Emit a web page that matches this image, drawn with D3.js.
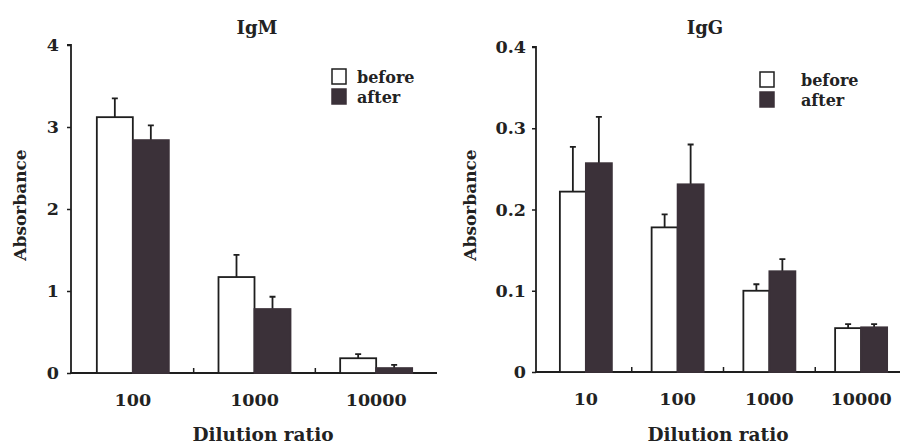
<!DOCTYPE html>
<html><head><meta charset="utf-8">
<script src="https://cdn.jsdelivr.net/npm/d3@7"></script>
<style>
body{margin:0;background:#fff;}
svg{display:block;}
text{font-family:"DejaVu Serif","Liberation Serif",serif;font-weight:bold;fill:#222;}
</style></head><body>
<svg id="chart" width="900" height="446"></svg>
<script>
const seriesNames = ["before", "after"];

const igmCategories = ["100", "1000", "10000"];
const igmBefore = [3.12, 1.17, 0.18];
const igmAfter = [2.84, 0.78, 0.06];
const igmBeforeErr = [0.23, 0.27, 0.05];
const igmAfterErr = [0.18, 0.15, 0.04];
const igmTicks = [0, 1, 2, 3, 4];

const iggCategories = ["10", "100", "1000", "10000"];
const iggBefore = [0.222, 0.178, 0.100, 0.054];
const iggAfter = [0.257, 0.231, 0.124, 0.055];
const iggBeforeErr = [0.055, 0.016, 0.008, 0.005];
const iggAfterErr = [0.057, 0.049, 0.015, 0.004];
const iggTicks = [0, 0.1, 0.2, 0.3, 0.4];

const svg = d3.select("#chart");
const dark = "#3b3139";
const ink = "#1e1e1e";

function panel(cfg) {
  const g = svg.append("g");
  const x = d3.scaleBand().domain(cfg.categories).range(cfg.xRange).paddingInner(0).paddingOuter(0);
  const y = d3.scaleLinear().domain([0, cfg.yMax]).range([cfg.y0, cfg.yTop]);
  const inner = d3.scaleBand().domain(seriesNames).range([0, cfg.barW * 2]);

  // y axis
  const yAxis = d3.axisLeft(y).tickValues(cfg.ticks).tickFormat(cfg.fmt).tickSize(4).tickPadding(cfg.tickPad);
  const ya = g.append("g").attr("transform", `translate(${cfg.axisX},0)`).call(yAxis);
  ya.select(".domain").attr("stroke", ink).attr("stroke-width", 1.8).attr("d", `M-4,${cfg.yTop}H0V${cfg.y0}`);
  ya.selectAll(".tick line").attr("stroke", ink).attr("stroke-width", 1.5);
  ya.selectAll(".tick text").style("font-size", "17.5px").style("font-family", "DejaVu Serif").style("font-weight", "bold").attr("fill", "#222");

  // x axis line with small upward ticks at band boundaries
  g.append("line").attr("x1", cfg.axisX - 1).attr("x2", cfg.xAxisEnd).attr("y1", cfg.y0).attr("y2", cfg.y0)
    .attr("stroke", ink).attr("stroke-width", 2);
  g.selectAll(".xt").data(cfg.categories.slice(1)).enter().append("line")
    .attr("x1", d => x(d)).attr("x2", d => x(d)).attr("y1", cfg.y0).attr("y2", cfg.y0 - 5)
    .attr("stroke", ink).attr("stroke-width", 1.5);
  g.selectAll(".xl").data(cfg.categories).enter().append("text")
    .attr("x", d => x(d) + x.bandwidth() / 2).attr("y", cfg.y0 + 33)
    .attr("text-anchor", "middle").style("font-size", "17.5px").text(d => d);

  const rows = cfg.categories.map((c, i) => ({c, vals: [
    {s: "before", v: cfg.before[i], e: cfg.beforeErr[i]},
    {s: "after", v: cfg.after[i], e: cfg.afterErr[i]}]}));

  const grp = g.selectAll(".grp").data(rows).enter().append("g")
    .attr("transform", d => `translate(${x(d.c) + x.bandwidth() / 2 - cfg.barW},0)`);
  // error bars
  grp.selectAll(".err").data(d => d.vals).enter().append("path")
    .attr("d", d => { const cx = inner(d.s) + cfg.barW / 2; const t = y(d.v + d.e);
      return `M${cx},${y(d.v)}V${t}M${cx - 3},${t}H${cx + 3}`; })
    .attr("stroke", ink).attr("stroke-width", 1.8).attr("fill", "none");
  grp.selectAll(".bar").data(d => d.vals).enter().append("rect")
    .attr("x", d => inner(d.s)).attr("width", cfg.barW)
    .attr("y", d => y(d.v)).attr("height", d => cfg.y0 - y(d.v))
    .attr("fill", d => d.s === "before" ? "#fff" : dark)
    .attr("stroke", d => d.s === "before" ? ink : dark).attr("stroke-width", 1.8);

  // titles
  g.append("text").attr("x", cfg.titleX).attr("y", 34).attr("text-anchor", "middle").style("font-size", "18px").text(cfg.title);
  g.append("text").attr("x", cfg.xTitleX).attr("y", 441).attr("text-anchor", "middle").style("font-size", "18.5px").text("Dilution ratio");
  g.append("text").attr("transform", `translate(${cfg.yTitleX},205) rotate(-90)`).attr("text-anchor", "middle")
    .style("font-size", "17px").text("Absorbance");

  // legend
  const lg = g.append("g").attr("transform", `translate(${cfg.legX},${cfg.legY})`);
  lg.selectAll("rect").data(seriesNames).enter().append("rect")
    .attr("x", 0).attr("y", (d, i) => i * 20).attr("width", 14).attr("height", 15)
    .attr("fill", d => d === "before" ? "#fff" : dark).attr("stroke", d => d === "before" ? ink : dark).attr("stroke-width", 1.5);
  lg.selectAll("text").data(seriesNames).enter().append("text")
    .attr("x", cfg.legTextDx).attr("y", (d, i) => i * 20 + 14).style("font-size", "16px").text(d => d);
}

panel({title: "IgM", categories: igmCategories, before: igmBefore, after: igmAfter,
  beforeErr: igmBeforeErr, afterErr: igmAfterErr, ticks: igmTicks, fmt: d3.format("d"), yMax: 4,
  axisX: 71, xRange: [72, 437], xAxisEnd: 437, y0: 373, yTop: 45, barW: 36, tickPad: 8,
  titleX: 257, xTitleX: 263, yTitleX: 26, legX: 332, legY: 69, legTextDx: 25});

panel({title: "IgG", categories: iggCategories, before: iggBefore, after: iggAfter,
  beforeErr: iggBeforeErr, afterErr: iggAfterErr, ticks: iggTicks, fmt: d => d === 0 ? "0" : d3.format(".1f")(d), yMax: 0.4,
  axisX: 536, xRange: [540, 907], xAxisEnd: 900, y0: 372, yTop: 47, barW: 26, tickPad: 6,
  titleX: 705, xTitleX: 718, yTitleX: 476, legX: 760, legY: 72, legTextDx: 41});
</script>
</body></html>
